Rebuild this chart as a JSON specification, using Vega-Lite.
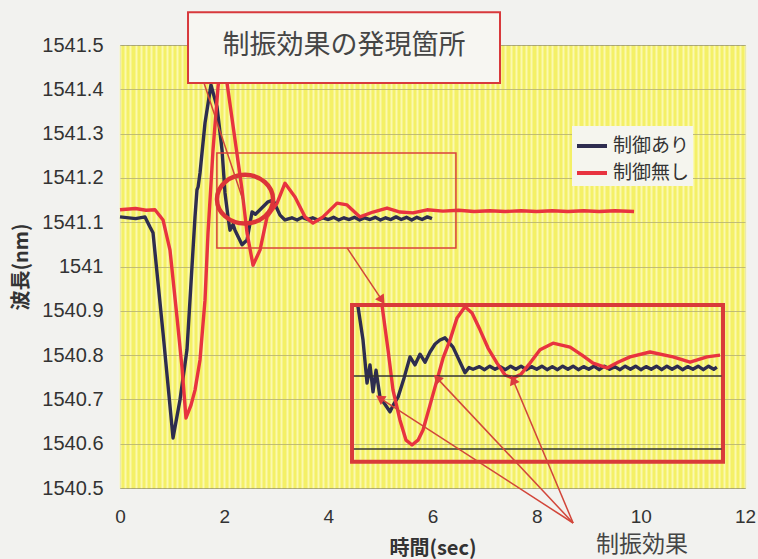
{
  "$schema": "https://vega.github.io/schema/vega-lite/v6.json",
  "autosize": {"type": "none"},
  "width": 625,
  "height": 443,
  "padding": {"left": 120, "top": 45, "right": 13, "bottom": 71},
  "background": "#f2f2ef",
  "config": {
    "view": {"fill": "#f4f066", "stroke": "#808080", "strokeWidth": 1}
  },
  "datasets": {
    "curves": [
      {"s": "制御あり", "p": "main", "t": 0, "v": 1541.112},
      {"s": "制御あり", "p": "main", "t": 0.3, "v": 1541.108},
      {"s": "制御あり", "p": "main", "t": 0.48, "v": 1541.112},
      {"s": "制御あり", "p": "main", "t": 0.576, "v": 1541.089},
      {"s": "制御あり", "p": "main", "t": 0.634, "v": 1541.076},
      {"s": "制御あり", "p": "main", "t": 0.826, "v": 1540.85},
      {"s": "制御あり", "p": "main", "t": 1.018, "v": 1540.613},
      {"s": "制御あり", "p": "main", "t": 1.152, "v": 1540.699},
      {"s": "制御あり", "p": "main", "t": 1.286, "v": 1540.812},
      {"s": "制御あり", "p": "main", "t": 1.382, "v": 1540.999},
      {"s": "制御あり", "p": "main", "t": 1.44, "v": 1541.112},
      {"s": "制御あり", "p": "main", "t": 1.478, "v": 1541.173},
      {"s": "制御あり", "p": "main", "t": 1.5, "v": 1541.18},
      {"s": "制御あり", "p": "main", "t": 1.536, "v": 1541.211},
      {"s": "制御あり", "p": "main", "t": 1.632, "v": 1541.324},
      {"s": "制御あり", "p": "main", "t": 1.747, "v": 1541.41},
      {"s": "制御あり", "p": "main", "t": 1.863, "v": 1541.36},
      {"s": "制御あり", "p": "main", "t": 1.959, "v": 1541.263},
      {"s": "制御あり", "p": "main", "t": 2.016, "v": 1541.166},
      {"s": "制御あり", "p": "main", "t": 2.074, "v": 1541.112},
      {"s": "制御あり", "p": "main", "t": 2.112, "v": 1541.082},
      {"s": "制御あり", "p": "main", "t": 2.17, "v": 1541.095},
      {"s": "制御あり", "p": "main", "t": 2.208, "v": 1541.082},
      {"s": "制御あり", "p": "main", "t": 2.343, "v": 1541.049},
      {"s": "制御あり", "p": "main", "t": 2.439, "v": 1541.06},
      {"s": "制御あり", "p": "main", "t": 2.535, "v": 1541.123},
      {"s": "制御あり", "p": "main", "t": 2.6, "v": 1541.118},
      {"s": "制御あり", "p": "main", "t": 2.688, "v": 1541.128},
      {"s": "制御あり", "p": "main", "t": 2.842, "v": 1541.146},
      {"s": "制御あり", "p": "main", "t": 2.938, "v": 1541.15},
      {"s": "制御あり", "p": "main", "t": 3.072, "v": 1541.116},
      {"s": "制御あり", "p": "main", "t": 3.168, "v": 1541.105},
      {"s": "制御あり", "p": "main", "t": 3.3, "v": 1541.11},
      {"s": "制御あり", "p": "main", "t": 3.4, "v": 1541.105},
      {"s": "制御あり", "p": "main", "t": 3.5, "v": 1541.111},
      {"s": "制御あり", "p": "main", "t": 3.6, "v": 1541.106},
      {"s": "制御あり", "p": "main", "t": 3.7, "v": 1541.11},
      {"s": "制御あり", "p": "main", "t": 3.8, "v": 1541.105},
      {"s": "制御あり", "p": "main", "t": 3.9, "v": 1541.11},
      {"s": "制御あり", "p": "main", "t": 4.0, "v": 1541.106},
      {"s": "制御あり", "p": "main", "t": 4.1, "v": 1541.111},
      {"s": "制御あり", "p": "main", "t": 4.2, "v": 1541.105},
      {"s": "制御あり", "p": "main", "t": 4.3, "v": 1541.11},
      {"s": "制御あり", "p": "main", "t": 4.4, "v": 1541.106},
      {"s": "制御あり", "p": "main", "t": 4.5, "v": 1541.111},
      {"s": "制御あり", "p": "main", "t": 4.6, "v": 1541.105},
      {"s": "制御あり", "p": "main", "t": 4.7, "v": 1541.11},
      {"s": "制御あり", "p": "main", "t": 4.8, "v": 1541.106},
      {"s": "制御あり", "p": "main", "t": 4.9, "v": 1541.111},
      {"s": "制御あり", "p": "main", "t": 5.0, "v": 1541.105},
      {"s": "制御あり", "p": "main", "t": 5.1, "v": 1541.11},
      {"s": "制御あり", "p": "main", "t": 5.2, "v": 1541.106},
      {"s": "制御あり", "p": "main", "t": 5.3, "v": 1541.112},
      {"s": "制御あり", "p": "main", "t": 5.4, "v": 1541.106},
      {"s": "制御あり", "p": "main", "t": 5.5, "v": 1541.111},
      {"s": "制御あり", "p": "main", "t": 5.6, "v": 1541.105},
      {"s": "制御あり", "p": "main", "t": 5.7, "v": 1541.111},
      {"s": "制御あり", "p": "main", "t": 5.8, "v": 1541.106},
      {"s": "制御あり", "p": "main", "t": 5.9, "v": 1541.112},
      {"s": "制御あり", "p": "main", "t": 5.99, "v": 1541.108},

      {"s": "制御無し", "p": "main", "t": 0, "v": 1541.128},
      {"s": "制御無し", "p": "main", "t": 0.3, "v": 1541.131},
      {"s": "制御無し", "p": "main", "t": 0.5, "v": 1541.127},
      {"s": "制御無し", "p": "main", "t": 0.672, "v": 1541.128},
      {"s": "制御無し", "p": "main", "t": 0.826, "v": 1541.105},
      {"s": "制御無し", "p": "main", "t": 0.96, "v": 1541.037},
      {"s": "制御無し", "p": "main", "t": 1.094, "v": 1540.886},
      {"s": "制御無し", "p": "main", "t": 1.19, "v": 1540.773},
      {"s": "制御無し", "p": "main", "t": 1.267, "v": 1540.658},
      {"s": "制御無し", "p": "main", "t": 1.363, "v": 1540.687},
      {"s": "制御無し", "p": "main", "t": 1.44, "v": 1540.721},
      {"s": "制御無し", "p": "main", "t": 1.536, "v": 1540.789},
      {"s": "制御無し", "p": "main", "t": 1.632, "v": 1540.924},
      {"s": "制御無し", "p": "main", "t": 1.69, "v": 1541.076},
      {"s": "制御無し", "p": "main", "t": 1.786, "v": 1541.263},
      {"s": "制御無し", "p": "main", "t": 1.882, "v": 1541.405},
      {"s": "制御無し", "p": "main", "t": 1.959, "v": 1541.477},
      {"s": "制御無し", "p": "main", "t": 2.055, "v": 1541.414},
      {"s": "制御無し", "p": "main", "t": 2.208, "v": 1541.286},
      {"s": "制御無し", "p": "main", "t": 2.343, "v": 1541.173},
      {"s": "制御無し", "p": "main", "t": 2.439, "v": 1541.076},
      {"s": "制御無し", "p": "main", "t": 2.554, "v": 1541.003},
      {"s": "制御無し", "p": "main", "t": 2.688, "v": 1541.037},
      {"s": "制御無し", "p": "main", "t": 2.823, "v": 1541.112},
      {"s": "制御無し", "p": "main", "t": 3.015, "v": 1541.143},
      {"s": "制御無し", "p": "main", "t": 3.168, "v": 1541.188},
      {"s": "制御無し", "p": "main", "t": 3.36, "v": 1541.157},
      {"s": "制御無し", "p": "main", "t": 3.552, "v": 1541.112},
      {"s": "制御無し", "p": "main", "t": 3.706, "v": 1541.098},
      {"s": "制御無し", "p": "main", "t": 3.898, "v": 1541.112},
      {"s": "制御無し", "p": "main", "t": 4.167, "v": 1541.143},
      {"s": "制御無し", "p": "main", "t": 4.359, "v": 1541.139},
      {"s": "制御無し", "p": "main", "t": 4.608, "v": 1541.112},
      {"s": "制御無し", "p": "main", "t": 4.858, "v": 1541.123},
      {"s": "制御無し", "p": "main", "t": 5.127, "v": 1541.132},
      {"s": "制御無し", "p": "main", "t": 5.376, "v": 1541.123},
      {"s": "制御無し", "p": "main", "t": 5.626, "v": 1541.121},
      {"s": "制御無し", "p": "main", "t": 5.895, "v": 1541.128},
      {"s": "制御無し", "p": "main", "t": 6.2, "v": 1541.125},
      {"s": "制御無し", "p": "main", "t": 6.5, "v": 1541.127},
      {"s": "制御無し", "p": "main", "t": 6.8, "v": 1541.124},
      {"s": "制御無し", "p": "main", "t": 7.1, "v": 1541.126},
      {"s": "制御無し", "p": "main", "t": 7.4, "v": 1541.124},
      {"s": "制御無し", "p": "main", "t": 7.7, "v": 1541.126},
      {"s": "制御無し", "p": "main", "t": 8.0, "v": 1541.124},
      {"s": "制御無し", "p": "main", "t": 8.3, "v": 1541.126},
      {"s": "制御無し", "p": "main", "t": 8.6, "v": 1541.124},
      {"s": "制御無し", "p": "main", "t": 8.9, "v": 1541.126},
      {"s": "制御無し", "p": "main", "t": 9.2, "v": 1541.124},
      {"s": "制御無し", "p": "main", "t": 9.5, "v": 1541.126},
      {"s": "制御無し", "p": "main", "t": 9.87, "v": 1541.124},

      {"s": "制御あり", "p": "inset", "t": 4.57, "v": 1540.909},
      {"s": "制御あり", "p": "inset", "t": 4.666, "v": 1540.834},
      {"s": "制御あり", "p": "inset", "t": 4.743, "v": 1540.737},
      {"s": "制御あり", "p": "inset", "t": 4.8, "v": 1540.778},
      {"s": "制御あり", "p": "inset", "t": 4.858, "v": 1540.717},
      {"s": "制御あり", "p": "inset", "t": 4.916, "v": 1540.766},
      {"s": "制御あり", "p": "inset", "t": 4.992, "v": 1540.705},
      {"s": "制御あり", "p": "inset", "t": 5.08, "v": 1540.69},
      {"s": "制御あり", "p": "inset", "t": 5.184, "v": 1540.672},
      {"s": "制御あり", "p": "inset", "t": 5.26, "v": 1540.69},
      {"s": "制御あり", "p": "inset", "t": 5.338, "v": 1540.705},
      {"s": "制御あり", "p": "inset", "t": 5.453, "v": 1540.748},
      {"s": "制御あり", "p": "inset", "t": 5.568, "v": 1540.796},
      {"s": "制御あり", "p": "inset", "t": 5.664, "v": 1540.778},
      {"s": "制御あり", "p": "inset", "t": 5.76, "v": 1540.802},
      {"s": "制御あり", "p": "inset", "t": 5.856, "v": 1540.784},
      {"s": "制御あり", "p": "inset", "t": 5.952, "v": 1540.807},
      {"s": "制御あり", "p": "inset", "t": 6.05, "v": 1540.825},
      {"s": "制御あり", "p": "inset", "t": 6.144, "v": 1540.834},
      {"s": "制御あり", "p": "inset", "t": 6.24, "v": 1540.839},
      {"s": "制御あり", "p": "inset", "t": 6.394, "v": 1540.818},
      {"s": "制御あり", "p": "inset", "t": 6.624, "v": 1540.76},
      {"s": "制御あり", "p": "inset", "t": 6.7, "v": 1540.772},
      {"s": "制御あり", "p": "inset", "t": 6.778, "v": 1540.768},
      {"s": "制御あり", "p": "inset", "t": 6.9, "v": 1540.774},
      {"s": "制御あり", "p": "inset", "t": 7.0, "v": 1540.767},
      {"s": "制御あり", "p": "inset", "t": 7.1, "v": 1540.775},
      {"s": "制御あり", "p": "inset", "t": 7.2, "v": 1540.768},
      {"s": "制御あり", "p": "inset", "t": 7.3, "v": 1540.774},
      {"s": "制御あり", "p": "inset", "t": 7.4, "v": 1540.767},
      {"s": "制御あり", "p": "inset", "t": 7.5, "v": 1540.775},
      {"s": "制御あり", "p": "inset", "t": 7.6, "v": 1540.768},
      {"s": "制御あり", "p": "inset", "t": 7.7, "v": 1540.775},
      {"s": "制御あり", "p": "inset", "t": 7.8, "v": 1540.767},
      {"s": "制御あり", "p": "inset", "t": 7.9, "v": 1540.774},
      {"s": "制御あり", "p": "inset", "t": 8.0, "v": 1540.768},
      {"s": "制御あり", "p": "inset", "t": 8.1, "v": 1540.775},
      {"s": "制御あり", "p": "inset", "t": 8.2, "v": 1540.767},
      {"s": "制御あり", "p": "inset", "t": 8.3, "v": 1540.774},
      {"s": "制御あり", "p": "inset", "t": 8.4, "v": 1540.767},
      {"s": "制御あり", "p": "inset", "t": 8.5, "v": 1540.775},
      {"s": "制御あり", "p": "inset", "t": 8.6, "v": 1540.768},
      {"s": "制御あり", "p": "inset", "t": 8.7, "v": 1540.775},
      {"s": "制御あり", "p": "inset", "t": 8.8, "v": 1540.767},
      {"s": "制御あり", "p": "inset", "t": 8.9, "v": 1540.774},
      {"s": "制御あり", "p": "inset", "t": 9.0, "v": 1540.768},
      {"s": "制御あり", "p": "inset", "t": 9.1, "v": 1540.775},
      {"s": "制御あり", "p": "inset", "t": 9.2, "v": 1540.767},
      {"s": "制御あり", "p": "inset", "t": 9.3, "v": 1540.775},
      {"s": "制御あり", "p": "inset", "t": 9.4, "v": 1540.768},
      {"s": "制御あり", "p": "inset", "t": 9.5, "v": 1540.774},
      {"s": "制御あり", "p": "inset", "t": 9.6, "v": 1540.767},
      {"s": "制御あり", "p": "inset", "t": 9.7, "v": 1540.775},
      {"s": "制御あり", "p": "inset", "t": 9.8, "v": 1540.768},
      {"s": "制御あり", "p": "inset", "t": 9.9, "v": 1540.775},
      {"s": "制御あり", "p": "inset", "t": 10.0, "v": 1540.767},
      {"s": "制御あり", "p": "inset", "t": 10.1, "v": 1540.774},
      {"s": "制御あり", "p": "inset", "t": 10.2, "v": 1540.768},
      {"s": "制御あり", "p": "inset", "t": 10.3, "v": 1540.775},
      {"s": "制御あり", "p": "inset", "t": 10.4, "v": 1540.767},
      {"s": "制御あり", "p": "inset", "t": 10.5, "v": 1540.775},
      {"s": "制御あり", "p": "inset", "t": 10.6, "v": 1540.768},
      {"s": "制御あり", "p": "inset", "t": 10.7, "v": 1540.775},
      {"s": "制御あり", "p": "inset", "t": 10.8, "v": 1540.767},
      {"s": "制御あり", "p": "inset", "t": 10.9, "v": 1540.774},
      {"s": "制御あり", "p": "inset", "t": 11.0, "v": 1540.768},
      {"s": "制御あり", "p": "inset", "t": 11.1, "v": 1540.775},
      {"s": "制御あり", "p": "inset", "t": 11.2, "v": 1540.767},
      {"s": "制御あり", "p": "inset", "t": 11.3, "v": 1540.775},
      {"s": "制御あり", "p": "inset", "t": 11.4, "v": 1540.768},
      {"s": "制御あり", "p": "inset", "t": 11.46, "v": 1540.773},

      {"s": "制御無し", "p": "inset", "t": 5.03, "v": 1540.913},
      {"s": "制御無し", "p": "inset", "t": 5.146, "v": 1540.812},
      {"s": "制御無し", "p": "inset", "t": 5.242, "v": 1540.721},
      {"s": "制御無し", "p": "inset", "t": 5.376, "v": 1540.653},
      {"s": "制御無し", "p": "inset", "t": 5.492, "v": 1540.608},
      {"s": "制御無し", "p": "inset", "t": 5.607, "v": 1540.597},
      {"s": "制御無し", "p": "inset", "t": 5.722, "v": 1540.608},
      {"s": "制御無し", "p": "inset", "t": 5.818, "v": 1540.631},
      {"s": "制御無し", "p": "inset", "t": 5.952, "v": 1540.687},
      {"s": "制御無し", "p": "inset", "t": 6.087, "v": 1540.744},
      {"s": "制御無し", "p": "inset", "t": 6.202, "v": 1540.793},
      {"s": "制御無し", "p": "inset", "t": 6.336, "v": 1540.834},
      {"s": "制御無し", "p": "inset", "t": 6.471, "v": 1540.884},
      {"s": "制御無し", "p": "inset", "t": 6.624, "v": 1540.909},
      {"s": "制御無し", "p": "inset", "t": 6.759, "v": 1540.895},
      {"s": "制御無し", "p": "inset", "t": 6.912, "v": 1540.857},
      {"s": "制御無し", "p": "inset", "t": 7.066, "v": 1540.816},
      {"s": "制御無し", "p": "inset", "t": 7.239, "v": 1540.782},
      {"s": "制御無し", "p": "inset", "t": 7.393, "v": 1540.755},
      {"s": "制御無し", "p": "inset", "t": 7.546, "v": 1540.748},
      {"s": "制御無し", "p": "inset", "t": 7.7, "v": 1540.757},
      {"s": "制御無し", "p": "inset", "t": 7.873, "v": 1540.782},
      {"s": "制御無し", "p": "inset", "t": 8.065, "v": 1540.812},
      {"s": "制御無し", "p": "inset", "t": 8.314, "v": 1540.827},
      {"s": "制御無し", "p": "inset", "t": 8.641, "v": 1540.818},
      {"s": "制御無し", "p": "inset", "t": 8.871, "v": 1540.8},
      {"s": "制御無し", "p": "inset", "t": 9.082, "v": 1540.782},
      {"s": "制御無し", "p": "inset", "t": 9.351, "v": 1540.771},
      {"s": "制御無し", "p": "inset", "t": 9.562, "v": 1540.784},
      {"s": "制御無し", "p": "inset", "t": 9.793, "v": 1540.796},
      {"s": "制御無し", "p": "inset", "t": 10.177, "v": 1540.807},
      {"s": "制御無し", "p": "inset", "t": 10.618, "v": 1540.796},
      {"s": "制御無し", "p": "inset", "t": 10.945, "v": 1540.784},
      {"s": "制御無し", "p": "inset", "t": 11.271, "v": 1540.796},
      {"s": "制御無し", "p": "inset", "t": 11.521, "v": 1540.8}
    ],
    "roi": [{"t1": 1.86, "t2": 6.45, "v1": 1541.042, "v2": 1541.256}],
    "insetbox": [{"t1": 4.455, "t2": 11.578, "v1": 1540.559, "v2": 1540.913}],
    "callout": [{"t1": 1.306, "t2": 7.296, "v1": 1541.414, "v2": 1541.574}],
    "refs": [
      {"t1": 4.49, "t2": 11.55, "v": 1540.753},
      {"t1": 4.49, "t2": 11.55, "v": 1540.588}
    ],
    "circle": [{"t": 2.4, "v": 1541.152}],
    "arrows": [
      {"id": "a0", "t1": 1.613, "v1": 1541.414, "t2": 2.381, "v2": 1541.143},
      {"id": "a1", "t1": 4.36, "v1": 1541.042, "t2": 5.03, "v2": 1540.924},
      {"id": "a2", "t1": 8.7, "v1": 1540.421, "t2": 4.99, "v2": 1540.703},
      {"id": "a3", "t1": 8.7, "v1": 1540.421, "t2": 6.087, "v2": 1540.748},
      {"id": "a4", "t1": 8.7, "v1": 1540.421, "t2": 7.546, "v2": 1540.744}
    ],
    "labels": [
      {"txt": "制振効果の発現箇所", "t": 4.3, "v": 1541.497}
    ],
    "labels2": [
      {"txt": "制振効果", "t": 10.02, "v": 1540.3713}
    ]
  },
  "layer": [
    {
      "data": {"name": "curves"},
      "mark": {"type": "line", "strokeWidth": 3.4, "strokeJoin": "round"},
      "encoding": {
        "x": {
          "field": "t", "type": "quantitative",
          "scale": {"domain": [0, 12], "nice": false, "zero": false},
          "axis": {
            "title": "時間(sec)", "grid": true, "tickCount": 120,
            "gridColor": "#fcfabc", "gridWidth": 2, "gridOpacity": 0.85,
            "ticks": false, "tickSize": 0, "domain": false,
            "labelExpr": "abs(datum.value/2 - round(datum.value/2)) < 0.01 ? format(datum.value, 'd') : ''",
            "labelOverlap": false, "labelFlush": false,
            "labelFont": "Liberation Sans", "labelFontSize": 19, "labelColor": "#333333", "labelPadding": 19,
            "titleFont": "Noto Sans CJK JP", "titleFontSize": 20, "titleFontWeight": "bold", "titleColor": "#333333", "titlePadding": 12
          }
        },
        "y": {
          "field": "v", "type": "quantitative",
          "scale": {"domain": [1540.5, 1541.5], "nice": false, "zero": false},
          "axis": {
            "title": "波長(nm)", "grid": true,
            "values": [1540.5, 1540.6, 1540.7, 1540.8, 1540.9, 1541.0, 1541.1, 1541.2, 1541.3, 1541.4, 1541.5],
            "format": ".1~f",
            "gridColor": "#b3af72", "gridWidth": 1, "gridOpacity": 0.8,
            "ticks": false, "tickSize": 0, "domain": false,
            "labelFont": "Liberation Sans", "labelFontSize": 20, "labelColor": "#333333", "labelPadding": 17,
            "titleFont": "Noto Sans CJK JP", "titleFontSize": 20, "titleFontWeight": "bold", "titleColor": "#333333", "titlePadding": 10
          }
        },
        "color": {
          "field": "s", "type": "nominal",
          "scale": {"domain": ["制御あり", "制御無し"], "range": ["#2e2d4f", "#e8333f"]},
          "legend": {
            "title": null, "orient": "none", "legendX": 452, "legendY": 81,
            "symbolType": "stroke", "symbolSize": 900, "symbolStrokeWidth": 4,
            "labelFont": "Noto Sans CJK JP", "labelFontSize": 19, "labelColor": "#333333",
            "fillColor": "#f5f5ee", "padding": 3, "rowPadding": -5, "labelOffset": 4
          }
        },
        "detail": {"field": "p", "type": "nominal"}
      }
    },
    {
      "data": {"name": "roi"},
      "mark": {"type": "rect", "filled": false, "stroke": "#d9413c", "strokeWidth": 1.5},
      "encoding": {
        "x": {"field": "t1", "type": "quantitative"},
        "x2": {"field": "t2"},
        "y": {"field": "v1", "type": "quantitative"},
        "y2": {"field": "v2"}
      }
    },
    {
      "data": {"name": "insetbox"},
      "mark": {"type": "rect", "filled": false, "stroke": "#d93a3a", "strokeWidth": 4},
      "encoding": {
        "x": {"field": "t1", "type": "quantitative"},
        "x2": {"field": "t2"},
        "y": {"field": "v1", "type": "quantitative"},
        "y2": {"field": "v2"}
      }
    },
    {
      "data": {"name": "refs"},
      "mark": {"type": "rule", "stroke": "#333333", "strokeWidth": 1.5},
      "encoding": {
        "x": {"field": "t1", "type": "quantitative"},
        "x2": {"field": "t2"},
        "y": {"field": "v", "type": "quantitative"}
      }
    },
    {
      "data": {"name": "circle"},
      "mark": {"type": "point", "shape": "M-1,0A1,0.87,0,1,1,1,0A1,0.87,0,1,1,-1,0Z", "filled": false, "stroke": "#dc3438", "strokeWidth": 4.5, "size": 3136, "opacity": 1},
      "encoding": {
        "x": {"field": "t", "type": "quantitative"},
        "y": {"field": "v", "type": "quantitative"}
      }
    },
    {
      "data": {"name": "arrows"},
      "mark": {"type": "rule", "stroke": "#d2463a", "strokeWidth": 1.5},
      "encoding": {
        "x": {"field": "t1", "type": "quantitative"},
        "x2": {"field": "t2"},
        "y": {"field": "v1", "type": "quantitative"},
        "y2": {"field": "v2"}
      }
    },
    {
      "data": {"name": "arrows"},
      "transform": [{"filter": "datum.id === 'a1'"}],
      "mark": {"type": "point", "shape": "triangle-up", "filled": true, "color": "#dc3a3e", "size": 110, "angle": 146, "opacity": 1},
      "encoding": {
        "x": {"field": "t2", "type": "quantitative"},
        "y": {"field": "v2", "type": "quantitative"}
      }
    },
    {
      "data": {"name": "arrows"},
      "transform": [{"filter": "datum.id === 'a2'"}],
      "mark": {"type": "point", "shape": "triangle-up", "filled": true, "color": "#dc3a3e", "size": 110, "angle": 303, "opacity": 1},
      "encoding": {
        "x": {"field": "t2", "type": "quantitative"},
        "y": {"field": "v2", "type": "quantitative"}
      }
    },
    {
      "data": {"name": "arrows"},
      "transform": [{"filter": "datum.id === 'a3'"}],
      "mark": {"type": "point", "shape": "triangle-up", "filled": true, "color": "#dc3a3e", "size": 110, "angle": 317, "opacity": 1},
      "encoding": {
        "x": {"field": "t2", "type": "quantitative"},
        "y": {"field": "v2", "type": "quantitative"}
      }
    },
    {
      "data": {"name": "arrows"},
      "transform": [{"filter": "datum.id === 'a4'"}],
      "mark": {"type": "point", "shape": "triangle-up", "filled": true, "color": "#dc3a3e", "size": 110, "angle": 337, "opacity": 1},
      "encoding": {
        "x": {"field": "t2", "type": "quantitative"},
        "y": {"field": "v2", "type": "quantitative"}
      }
    },
    {
      "data": {"name": "callout"},
      "mark": {"type": "rect", "fill": "#f7f6f2", "stroke": "#d8393c", "strokeWidth": 2},
      "encoding": {
        "x": {"field": "t1", "type": "quantitative"},
        "x2": {"field": "t2"},
        "y": {"field": "v1", "type": "quantitative"},
        "y2": {"field": "v2"}
      }
    },
    {
      "data": {"name": "labels"},
      "mark": {"type": "text", "font": "Noto Sans CJK JP", "fontSize": 27, "color": "#454545", "align": "center", "baseline": "middle"},
      "encoding": {
        "x": {"field": "t", "type": "quantitative"},
        "y": {"field": "v", "type": "quantitative"},
        "text": {"field": "txt"}
      }
    },
    {
      "data": {"name": "labels2"},
      "mark": {"type": "text", "font": "Noto Sans CJK JP", "fontSize": 23, "color": "#454545", "align": "center", "baseline": "middle"},
      "encoding": {
        "x": {"field": "t", "type": "quantitative"},
        "y": {"field": "v", "type": "quantitative"},
        "text": {"field": "txt"}
      }
    }
  ]
}
